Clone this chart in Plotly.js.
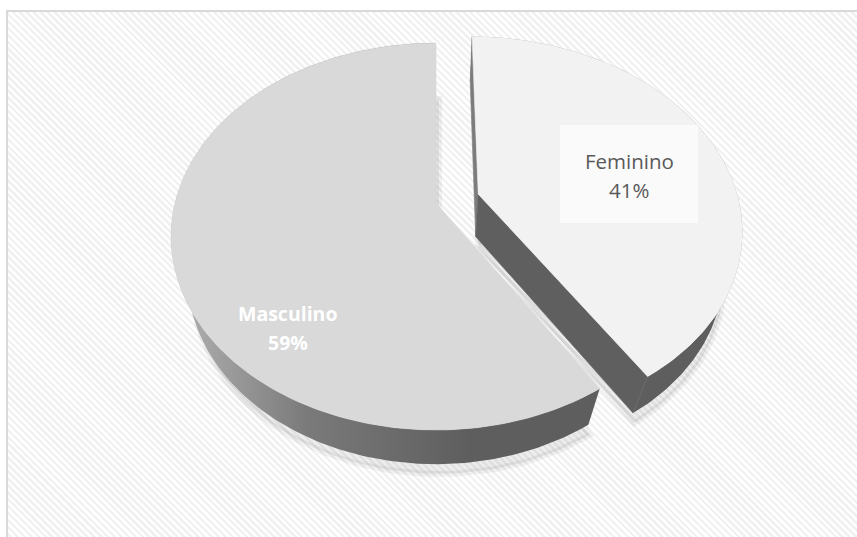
<!DOCTYPE html>
<html>
<head>
<meta charset="utf-8">
<script src="https://cdn.plot.ly/plotly-3.0.1.min.js"></script>
<style>
  html, body { margin: 0; padding: 0; background: #ffffff; }
  #wrap { position: relative; width: 857px; height: 537px; overflow: hidden; background: #ffffff; }
  #bg { position: absolute; left: 6px; top: 10px; right: -4px; bottom: -4px;
        border: 2px solid #d9d9d9;
        background: repeating-linear-gradient(45deg, #ffffff 0px, #ffffff 2.4px, #f1f1f1 2.4px, #f1f1f1 4.9px); }
  #chart { position: absolute; left: 0; top: 0; width: 857px; height: 537px; }
</style>
</head>
<body>
<div id="wrap"><div id="bg"></div><div id="chart"></div></div>
<script>
// ---- data ----
const categories = ['Feminino', 'Masculino'];
const values = [41, 59];
const pulls = [0.17, 0];

// ---- styling ----
const topColors = ['#f2f2f2', '#d9d9d9'];
const labelColors = ['#595959', '#ffffff'];
const labelBold = [false, true];
const labelSizes = [20.5, 19.5];
const labelPos = [[629, 161], [288, 313]];   // first-line centre (px)
const lineGap = 29;

// projection of the 3D pie (pixel space)
const CX = 436, CY = 203, A = 261, B = 187.7, K = 0.173, M = 0.064, H = 45;
function P(X, Z, Y) { const d = 1 + K * Z + M * Y; return [CX + A * X / d, CY + (-B * Z + H * Y) / d]; }
const rad = a => a * Math.PI / 180;

function arc(ox, oz, a0, a1, Y) {
  const n = Math.max(2, Math.ceil(Math.abs(a1 - a0)) + 1);
  const pts = [];
  for (let i = 0; i < n; i++) {
    const t = rad(a0 + (a1 - a0) * i / (n - 1));
    pts.push(P(ox + Math.sin(t), oz + Math.cos(t), Y));
  }
  return pts;
}
function poly(pts, fill, extra) {
  const x = pts.map(p => p[0]), y = pts.map(p => p[1]);
  x.push(x[0]); y.push(y[0]);
  return Object.assign({
    type: 'scatter', mode: 'lines', x, y, fill: 'toself', fillcolor: fill,
    line: { width: 0.6, color: fill }, hoverinfo: 'skip', showlegend: false
  }, extra || {});
}

const total = values.reduce((s, v) => s + v, 0);
const slices = [];
let cum = 0;
values.forEach((v, i) => {
  const a0 = cum, a1 = cum + 360 * v / total;
  const mid = rad((a0 + a1) / 2);
  slices.push({ i, a0, a1, ox: pulls[i] * Math.sin(mid), oz: pulls[i] * Math.cos(mid) });
  cum = a1;
});

const sideGrad = { type: 'horizontal', start: 175, stop: 470,
  colorscale: [[0, '#b2b2b2'], [0.45, '#7a7a7a'], [1, '#5e5e5e']] };
const camZ = -1 / K;
const order = slices.slice().sort((s, t) => pulls[s.i] - pulls[t.i]);

const traces = [];
// soft shadow
order.forEach(s => {
  const pts = [P(s.ox, s.oz, 1.15)].concat(arc(s.ox, s.oz, s.a0, s.a1, 1.15));
  traces.push(poly(pts.map(p => [p[0] + 3, p[1] + 5]), 'rgba(0,0,0,0.07)', { line: { width: 6, color: 'rgba(0,0,0,0.05)' } }));
});
order.forEach(s => {
  const { ox, oz, a0, a1 } = s;
  // outer side
  const top = arc(ox, oz, a0, a1, 0), bot = arc(ox, oz, a1, a0, 1);
  traces.push(poly(top.concat(bot), '#5e5e5e', { fillgradient: sideGrad, line: { width: 0 } }));
  // radial faces that face the viewer
  [[a0, -1], [a1, 1]].forEach(([ang, sgn]) => {
    const t = rad(ang);
    const nx = sgn * Math.cos(t), nz = -sgn * Math.sin(t);
    const dot = nx * (0 - ox) + nz * (camZ - oz);
    if (dot > 1e-6) {
      const ex = ox + Math.sin(t), ez = oz + Math.cos(t);
      traces.push(poly([P(ox, oz, 0), P(ex, ez, 0), P(ex, ez, 1), P(ox, oz, 1)], sgn < 0 ? '#7c7c7c' : '#5f5f5f'));
    }
  });
  // top face
  traces.push(poly([P(ox, oz, 0)].concat(arc(ox, oz, a0, a1, 0)), topColors[s.i]));
});

// labels
const annotations = [];
const shapes = [
  { type: 'rect', xref: 'x', yref: 'y', x0: 560, x1: 698, y0: 125, y1: 223,
    fillcolor: '#fafafa', line: { width: 0 }, layer: 'above' }
];
slices.forEach(s => {
  const pct = Math.round(values[s.i] / total * 100) + '%';
  const [lx, ly] = labelPos[s.i];
  const font = { family: 'Open Sans, sans-serif', size: labelSizes[s.i], color: labelColors[s.i], weight: labelBold[s.i] ? 700 : 400 };
  annotations.push({ x: lx, y: ly, xref: 'x', yref: 'y', text: categories[s.i], showarrow: false, font, xanchor: 'center', yanchor: 'middle' });
  annotations.push({ x: lx, y: ly + lineGap, xref: 'x', yref: 'y', text: pct, showarrow: false, font, xanchor: 'center', yanchor: 'middle' });
});

const layout = {
  width: 857, height: 537,
  margin: { l: 0, r: 0, t: 0, b: 0, pad: 0 },
  paper_bgcolor: 'rgba(0,0,0,0)', plot_bgcolor: 'rgba(0,0,0,0)',
  xaxis: { range: [0, 857], visible: false, fixedrange: true },
  yaxis: { range: [537, 0], visible: false, fixedrange: true },
  showlegend: false, shapes, annotations
};
Plotly.newPlot('chart', traces, layout, { staticPlot: true, displayModeBar: false });
</script>
</body>
</html>
